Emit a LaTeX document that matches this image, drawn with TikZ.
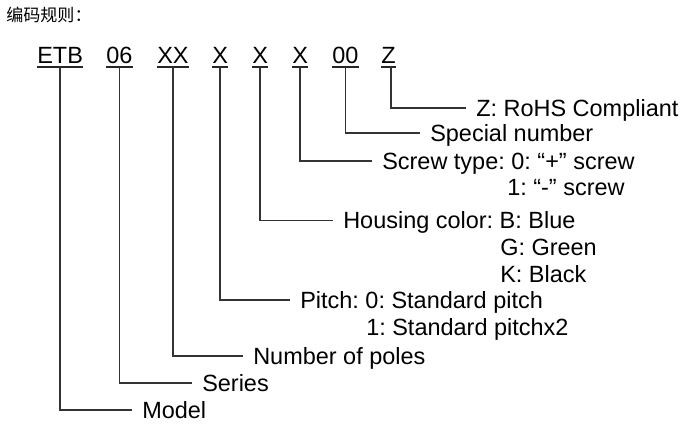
\documentclass[tikz,border=0pt]{standalone}
\usepackage{fontspec}
\setmainfont{Liberation Sans}
\newfontfamily\cjkfont{Noto Sans CJK SC}
\frenchspacing
\usetikzlibrary{positioning}
\tikzset{code/.style = {anchor=base west, inner xsep=0, inner ysep=2.6pt, font=\fontsize{17.6}{20}\selectfont},
  lbl/.style = {anchor=west, inner xsep=7.5pt, inner ysep=0, text height=12.6pt, text depth=0pt, font=\fontsize{17.6}{20}\selectfont},
  conn/.style = {draw=black!80, line width=1pt},
  uline/.style = {draw=black!85, line width=1.6pt}}

\begin{document}
\begin{tikzpicture}[x=0.75pt, y=-0.75pt]
    \useasboundingbox (0, 0) rectangle (699, 437);
    \node [anchor=west, inner sep=0, font=\cjkfont\fontsize{12.8}{14}\selectfont] (title) at (6, 15) {编码规则：};

    \foreach \n/\x/\t in {etb/37/ETB, ser/106/06, pol/157/XX, pit/212/X, col/252/X, scr/292/X, spc/332/00, roh/381/Z} {
      \node [code] (\n) at (\x, 63) {\t};
      \draw [uline] (\n.south west) -- (\n.south east);
    }

    \node [lbl] (model) at (132, 410) {Model};
    \node [lbl] (series) at (192, 383) {Series};
    \node [lbl] (poles) at (243, 356) {Number of poles};
    \node [lbl] (pitch) at (290, 300) {Pitch: 0: Standard pitch};
    \node [lbl] (pitch2) at (356, 327) {1: Standard pitchx2};
    \node [lbl] (color) at (333, 220.5) {Housing color: B: Blue};
    \node [lbl] (color2) at (490, 247.5) {G: Green};
    \node [lbl] (color3) at (490, 274) {K: Black};
    \node [lbl] (screw) at (372, 161) {Screw type: 0: “+” screw};
    \node [lbl] (screw2) at (497, 187.5) {1: “-” screw};
    \node [lbl] (special) at (420, 133) {Special number};
    \node [lbl] (rohs) at (466, 108) {Z: RoHS Compliant};

    \draw [conn] (etb.south) |- (model.west);
    \draw [conn] (ser.south) |- (series.west);
    \draw [conn] (pol.south) |- (poles.west);
    \draw [conn] (pit.south) |- (pitch.west);
    \draw [conn] (col.south) |- (color.west);
    \draw [conn] (scr.south) |- (screw.west);
    \draw [conn] (spc.south) |- (special.west);
    \draw [conn] ([xshift=2]roh.south) |- (rohs.west);
  \end{tikzpicture}
\end{document}
